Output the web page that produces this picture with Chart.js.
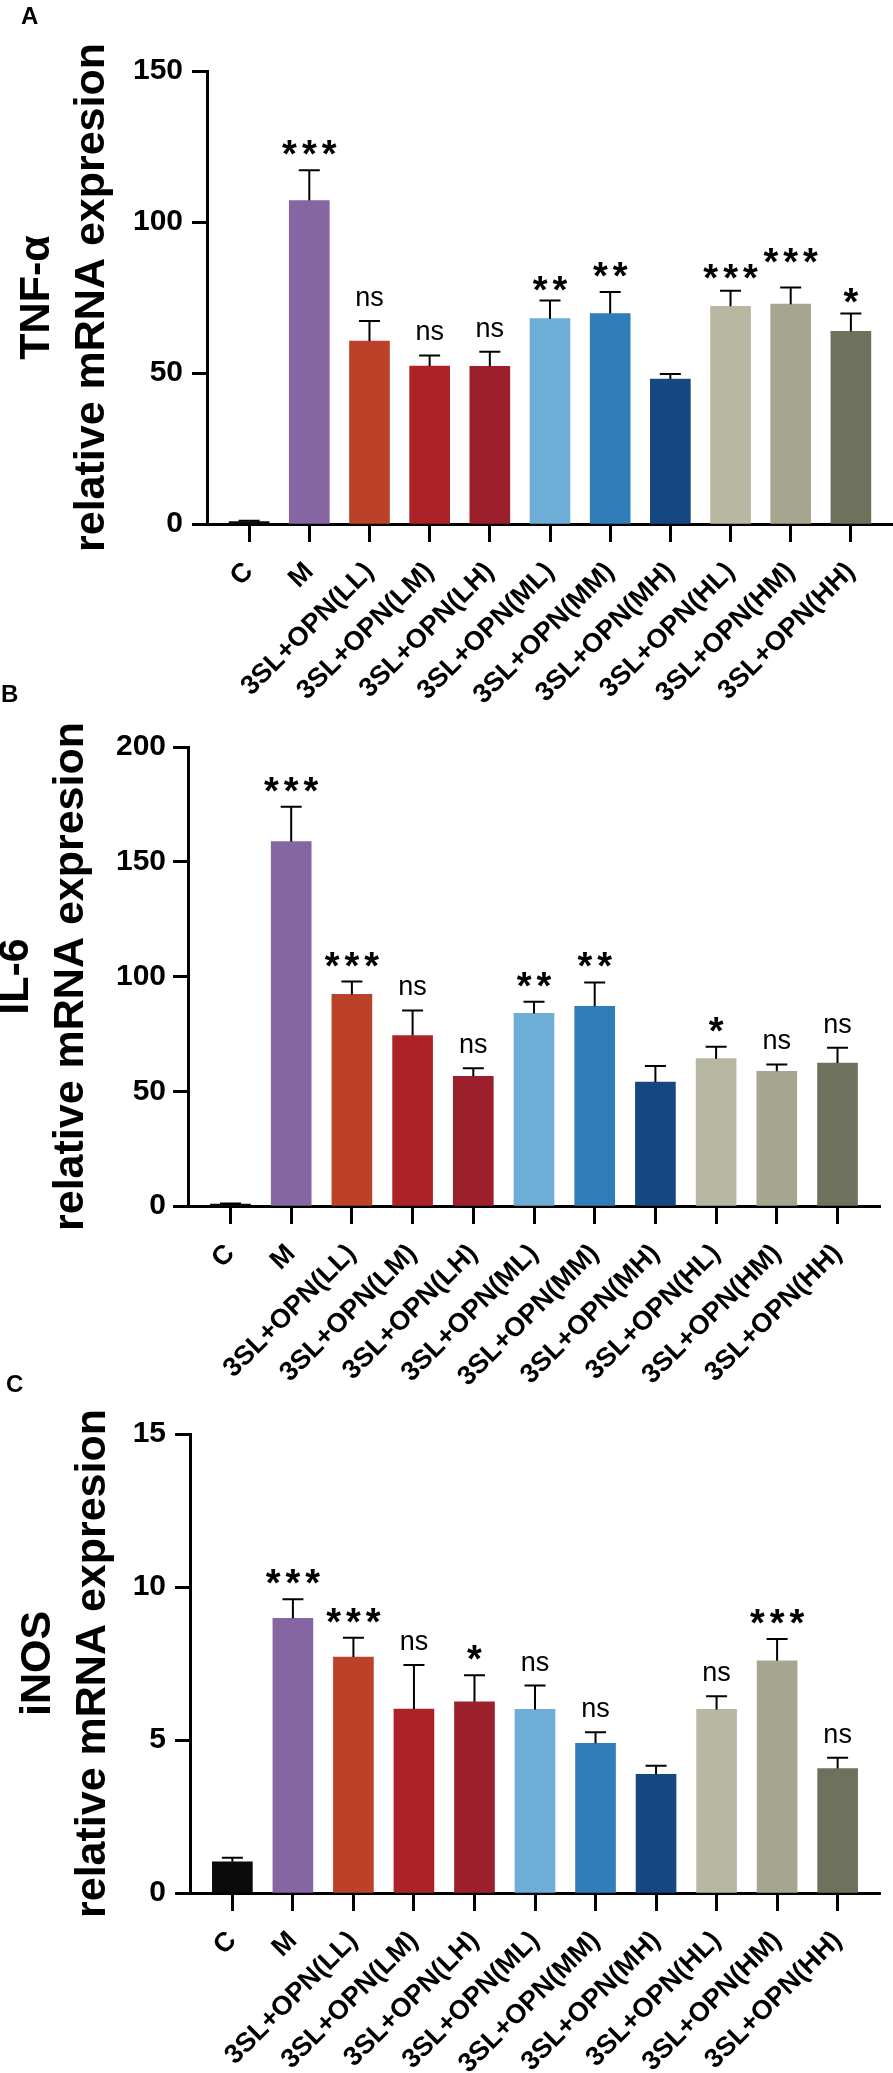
<!DOCTYPE html>
<html>
<head>
<meta charset="utf-8">
<script src="https://cdn.jsdelivr.net/npm/chart.js@4.4.1/dist/chart.umd.min.js"></script>
<style>
  body { margin: 0; background: #fff; }
  #page { position: relative; width: 893px; height: 2073px; overflow: hidden; }
  canvas { position: absolute; left: 0; }
  .tag { position: absolute; font: bold 24px "Liberation Sans", Arial, sans-serif; line-height: 24px; color: #000; }
</style>
</head>
<body>
<div id="page">
  <canvas id="panelA" width="893" height="720" style="top:0px"></canvas>
  <canvas id="panelB" width="893" height="720" style="top:680px"></canvas>
  <canvas id="panelC" width="893" height="713" style="top:1360px"></canvas>
  <div class="tag" style="left:21px;top:4px">A</div>
  <div class="tag" style="left:1px;top:682px">B</div>
  <div class="tag" style="left:6px;top:1372px">C</div>
</div>
<script>
const groups = ["C", "M", "3SL+OPN(LL)", "3SL+OPN(LM)", "3SL+OPN(LH)", "3SL+OPN(ML)",
    "3SL+OPN(MM)", "3SL+OPN(MH)", "3SL+OPN(HL)", "3SL+OPN(HM)", "3SL+OPN(HH)"];
const barColors = ["#0b0b0b", "#8566a2", "#bb4228", "#ad2227", "#9c202b", "#6eadd5",
    "#2f7db9", "#154781", "#b8b7a2", "#a6a58f", "#6e725d"];

// TNF-a
const tnfMean = [0.8, 107.1, 60.6, 52.3, 52.2, 68.0, 69.7, 48.0, 72.1, 72.8, 63.8];
const tnfSem = [0.3, 10.0, 6.6, 3.5, 4.8, 6.0, 7.1, 1.7, 5.1, 5.5, 5.9];
const tnfSig = ["", "***", "ns", "ns", "ns", "**", "**", "", "***", "***", "*"];
const tnfTicks = [0, 50, 100, 150];

// IL-6
const il6Mean = [0.8, 158.8, 92.2, 74.3, 56.5, 83.9, 87.0, 54.0, 64.2, 58.7, 62.3];
const il6Sem = [0.3, 15.2, 5.6, 10.9, 3.5, 5.1, 10.4, 7.0, 5.2, 3.0, 6.7];
const il6Sig = ["", "***", "***", "ns", "ns", "**", "**", "", "*", "ns", "ns"];
const il6Ticks = [0, 50, 100, 150, 200];

// iNOS
const inosMean = [1.02, 8.98, 7.71, 6.01, 6.25, 6.00, 4.89, 3.88, 6.00, 7.59, 4.07];
const inosSem = [0.13, 0.62, 0.63, 1.44, 0.87, 0.78, 0.36, 0.28, 0.43, 0.71, 0.35];
const inosSig = ["", "***", "***", "ns", "*", "ns", "ns", "", "ns", "***", "ns"];
const inosTicks = [0, 5, 10, 15];

const fontFamily = "'Liberation Sans', Arial, Helvetica, sans-serif";

// upper error bar + significance mark over each bar
const errorBars = {
    id: "errbars",
    afterDatasetsDraw(chart, args, opts) {
        const ctx = chart.ctx;
        const xs = chart.scales.x;
        const ys = chart.scales.y;
        ctx.save();
        ctx.strokeStyle = "#000";
        ctx.fillStyle = "#000";
        ctx.lineWidth = 2;
        chart.data.datasets[0].data.forEach((p, i) => {
            const cx = xs.getPixelForValue(p.x);
            const y0 = ys.getPixelForValue(p.y);
            const y1 = ys.getPixelForValue(p.y + opts.sem[i]);
            ctx.beginPath();
            ctx.moveTo(cx, y0);
            ctx.lineTo(cx, y1);
            ctx.moveTo(cx - 10.5, y1);
            ctx.lineTo(cx + 10.5, y1);
            ctx.stroke();

            const mark = opts.marks[i];
            if (!mark) return;
            const stars = mark !== "ns";
            ctx.font = stars ? `bold 38px ${fontFamily}` : `27px ${fontFamily}`;
            ctx.letterSpacing = stars ? "5px" : "0px";
            ctx.textAlign = "center";
            ctx.textBaseline = "alphabetic";
            const m = ctx.measureText(mark);
            const lift = (opts.lift && opts.lift[i]) || 0;
            ctx.fillText(mark, cx + (stars ? 2.5 : 0), y1 - 15 - lift - m.actualBoundingBoxDescent);
        });
        ctx.restore();
    }
};

function makePanel(id, means, sems, marks, yTicks, yName, box) {
    const canvas = document.getElementById(id);
    return new Chart(canvas.getContext("2d"), {
        type: "bar",
        data: {
            datasets: [{
                data: means.map((v, i) => ({ x: i, y: v })),
                backgroundColor: barColors,
                borderWidth: 0,
                barThickness: 40
            }]
        },
        options: {
            responsive: false,
            animation: false,
            layout: { padding: { top: box.top, right: box.right, left: 0, bottom: 0 } },
            plugins: {
                legend: { display: false },
                tooltip: { enabled: false },
                errbars: { sem: sems, marks: marks, lift: box.lift }
            },
            scales: {
                x: {
                    type: "linear",
                    min: -0.7,
                    max: groups.length - 0.3,
                    offset: false,
                    afterBuildTicks: s => { s.ticks = groups.map((g, i) => ({ value: i })); },
                    afterFit: s => { s.height = box.xHeight; },
                    ticks: {
                        callback: v => groups[v],
                        minRotation: 45,
                        maxRotation: 45,
                        autoSkip: false,
                        color: "#000",
                        padding: 14,
                        font: { family: fontFamily, size: 27, weight: "bold" }
                    },
                    grid: { drawOnChartArea: false, offset: false, tickLength: 18, tickWidth: 3, tickColor: "#000" },
                    border: { display: true, width: 3, color: "#000" }
                },
                y: {
                    min: 0,
                    max: yTicks[yTicks.length - 1],
                    afterBuildTicks: s => { s.ticks = yTicks.map(v => ({ value: v })); },
                    afterFit: s => { s.width = box.left; },
                    ticks: {
                        color: "#000",
                        padding: box.tickPad,
                        font: { family: fontFamily, size: 30, weight: "bold" }
                    },
                    grid: { drawOnChartArea: false, tickLength: 15, tickWidth: 3, tickColor: "#000" },
                    border: { display: true, width: 3, color: "#000" },
                    title: {
                        display: true,
                        text: [yName, "relative mRNA expresion"],
                        color: "#000",
                        font: { family: fontFamily, size: 43, weight: "bold", lineHeight: 1.28 },
                        padding: { top: box.titlePad, bottom: 0 }
                    }
                }
            }
        },
        plugins: [errorBars]
    });
}

makePanel("panelA", tnfMean, tnfSem, tnfSig, tnfTicks, "TNF-α",
    { top: 71, right: 0, left: 207, xHeight: 196, tickPad: 9, titlePad: 10,
      lift: [0, 0, 0, 0, 0, -5, 0, 0, -3, 10, -4] });
makePanel("panelB", il6Mean, il6Sem, il6Sig, il6Ticks, "IL-6",
    { top: 67, right: 13, left: 188, xHeight: 194, tickPad: 7, titlePad: -11 });
makePanel("panelC", inosMean, inosSem, inosSig, inosTicks, "iNOS",
    { top: 74, right: 13, left: 190, xHeight: 180, tickPad: 9, titlePad: 11 });
</script>
</body>
</html>
